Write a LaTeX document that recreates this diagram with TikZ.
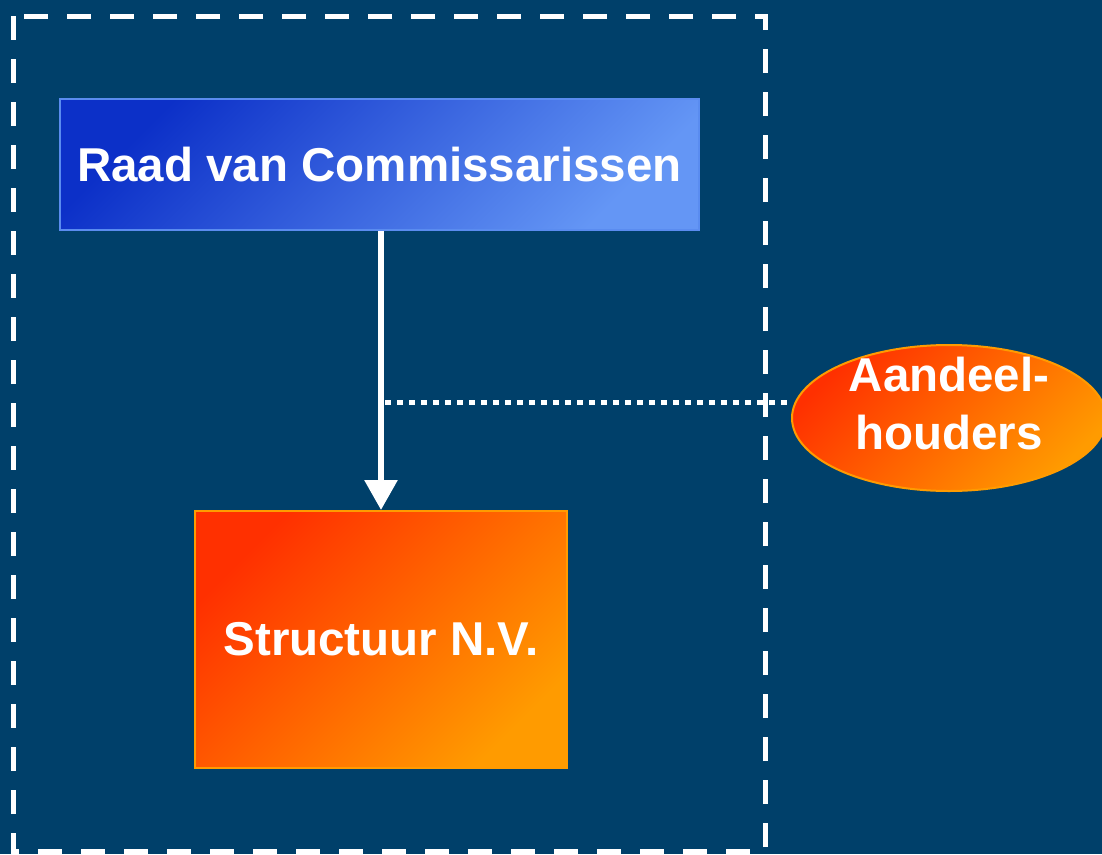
\documentclass[tikz,border=0pt]{standalone}
\usepackage{fontspec}
\setmainfont{Liberation Sans}
\usetikzlibrary{positioning,shapes.geometric,arrows.meta}
\definecolor{bgblue}{RGB}{0,64,106}
\definecolor{boxdark}{RGB}{12,48,200}
\definecolor{boxlight}{RGB}{100,150,245}
\definecolor{boxline}{RGB}{90,140,240}
\definecolor{orgdark}{RGB}{255,48,0}
\definecolor{orglight}{RGB}{255,155,0}
\begin{document}
\begin{tikzpicture}[x=1pt,y=-1pt]
  \tikzstyle{every node}=[font=\fontsize{47.5}{58}\selectfont\bfseries, text=white]
  \fill[bgblue] (0,0) rectangle (1102,854);
  \useasboundingbox (0,0) rectangle (1102,854);

  % Outer frame
  \draw[white, line width=5pt, dash pattern=on 24pt off 19pt] (13,16) rectangle (765,851);

  % Main boxes
  \node (rvc) at (379.5,164.5) [rectangle, minimum width=639pt, minimum height=131pt,
                draw=boxline, line width=2pt, top color=boxdark, bottom color=boxlight,
                shading angle=45] {Raad van Commissarissen};
  \node (nv) at (381,639.5) [rectangle, minimum width=372pt, minimum height=257pt,
                draw=orglight, line width=2pt, top color=orgdark, bottom color=orglight,
                shading angle=45] {Structuur N.V.};
  \node (aandeel) at (949,418) [ellipse, minimum width=314pt, minimum height=146pt,
                inner xsep=0pt, inner ysep=-20pt, draw=orglight, line width=2pt,
                top color=orgdark, bottom color=orglight, shading angle=45,
                align=center, text depth=30pt]
                {Aandeel-\\houders};

  % Arrows
  \draw[white, line width=6pt, -{Triangle[width=32pt,length=30pt]}]
        (rvc.south -| nv.north) to (nv.north);
  \coordinate (join) at (385,402);
  \draw[white, line width=5pt, dash pattern=on 6pt off 6pt] (join) -- (join -| aandeel.west);
\end{tikzpicture}
\end{document}
